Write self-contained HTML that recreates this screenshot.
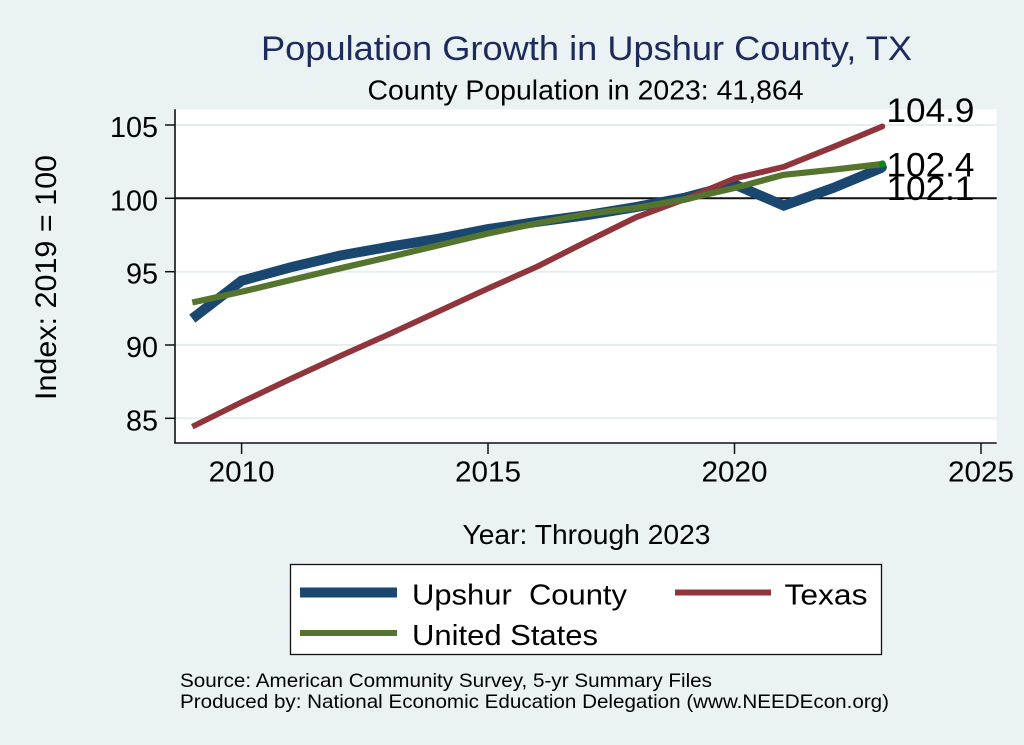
<!DOCTYPE html>
<html>
<head>
<meta charset="utf-8">
<style>
  html, body { margin:0; padding:0; background:#EAF2F3; }
  svg { display:block; }
  text { font-family: "Liberation Sans", Arial, Helvetica, sans-serif; }
</style>
</head>
<body>
<svg width="1024" height="745" viewBox="0 0 1024 745" xmlns="http://www.w3.org/2000/svg">
  <rect x="0" y="0" width="1024" height="745" fill="#EAF2F3"/>

  <!-- title -->
  <text x="261" y="60" font-size="34.5" fill="#1C2B5A" textLength="651" lengthAdjust="spacingAndGlyphs">Population Growth in Upshur County, TX</text>
  <text x="367.5" y="99.5" font-size="27.5" fill="#000" textLength="436" lengthAdjust="spacingAndGlyphs">County Population in 2023: 41,864</text>

  <!-- plot region -->
  <rect x="175" y="109.3" width="821.7" height="333.7" fill="#FFFFFF"/>

  <g stroke="#E6EEF0" stroke-width="2">
    <line x1="175" y1="125" x2="996.7" y2="125"/>
    <line x1="175" y1="271.7" x2="996.7" y2="271.7"/>
    <line x1="175" y1="345" x2="996.7" y2="345"/>
    <line x1="175" y1="418.3" x2="996.7" y2="418.3"/>
  </g>

  <line x1="175" y1="198.3" x2="996.7" y2="198.3" stroke="#111" stroke-width="2"/>

  <line x1="175" y1="109.3" x2="175" y2="443.5" stroke="#111" stroke-width="1.6"/>
  <line x1="174.2" y1="443" x2="996.7" y2="443" stroke="#111" stroke-width="1.6"/>

  <g stroke="#111" stroke-width="1.5">
    <line x1="165" y1="125" x2="175" y2="125"/>
    <line x1="165" y1="198.3" x2="175" y2="198.3"/>
    <line x1="165" y1="271.7" x2="175" y2="271.7"/>
    <line x1="165" y1="345" x2="175" y2="345"/>
    <line x1="165" y1="418.3" x2="175" y2="418.3"/>
  </g>
  <g stroke="#111" stroke-width="1.5">
    <line x1="241.6" y1="443" x2="241.6" y2="454"/>
    <line x1="488" y1="443" x2="488" y2="454"/>
    <line x1="734.5" y1="443" x2="734.5" y2="454"/>
    <line x1="981" y1="443" x2="981" y2="454"/>
  </g>

  <!-- y tick labels -->
  <g font-size="28.5" fill="#000" text-anchor="end">
    <text x="158" y="137" textLength="48" lengthAdjust="spacingAndGlyphs">105</text>
    <text x="158" y="210.3" textLength="48" lengthAdjust="spacingAndGlyphs">100</text>
    <text x="158" y="283.7" textLength="32" lengthAdjust="spacingAndGlyphs">95</text>
    <text x="158" y="357" textLength="32" lengthAdjust="spacingAndGlyphs">90</text>
    <text x="158" y="430.3" textLength="32" lengthAdjust="spacingAndGlyphs">85</text>
  </g>

  <!-- x tick labels -->
  <g font-size="28.5" fill="#000" text-anchor="middle">
    <text x="241.6" y="481.5" textLength="66" lengthAdjust="spacingAndGlyphs">2010</text>
    <text x="488" y="481.5" textLength="66" lengthAdjust="spacingAndGlyphs">2015</text>
    <text x="734.5" y="481.5" textLength="66" lengthAdjust="spacingAndGlyphs">2020</text>
    <text x="981" y="481.5" textLength="66" lengthAdjust="spacingAndGlyphs">2025</text>
  </g>

  <!-- axis titles -->
  <text transform="translate(56,277.5) rotate(-90)" x="0" y="0" font-size="30" fill="#000" text-anchor="middle" textLength="245" lengthAdjust="spacingAndGlyphs">Index: 2019 = 100</text>
  <text x="586.5" y="544" font-size="27.5" fill="#000" text-anchor="middle" textLength="248" lengthAdjust="spacingAndGlyphs">Year: Through 2023</text>

  <!-- Upshur County -->
  <polyline fill="none" stroke="#1A476F" stroke-width="10" stroke-linejoin="miter" stroke-linecap="butt"
    points="192.3,318.6 241.59,280.75 290.88,267.25 340.17,255.5 389.46,246.7 438.75,238.65 488.04,229.1 537.33,221.8 586.62,215.2 635.91,207.1 685.2,197.6 734.49,184.4 783.78,205.6 833.07,188.0 882.36,167.5"/>
  <circle cx="882.36" cy="167.5" r="4.5" fill="#1A476F"/>

  <!-- Texas -->
  <polyline fill="none" stroke="#90353B" stroke-width="5.8" stroke-linejoin="round" stroke-linecap="butt"
    points="192.3,426.7 241.59,402.2 290.88,378.7 340.17,356.0 389.46,334.0 438.75,311.3 488.04,288.5 537.33,266.5 586.62,241.6 635.91,217.4 685.2,199.0 734.49,178.5 783.78,166.8 833.07,147.0 882.36,126.4"/>
  <circle cx="882.36" cy="126.4" r="2.9" fill="#90353B"/>

  <!-- United States -->
  <polyline fill="none" stroke="#55752F" stroke-width="6.2" stroke-linejoin="round" stroke-linecap="butt"
    points="192.3,302.5 241.59,291.75 290.88,280.0 340.17,268.3 389.46,257.0 438.75,245.25 488.04,233.5 537.33,223.25 586.62,214.0 635.91,207.85 685.2,199.35 734.49,188.0 783.78,174.8 833.07,169.7 882.36,164.0"/>
  <circle cx="882.36" cy="164.0" r="3.6" fill="#0B8A0B"/>

  <!-- end labels -->
  <g font-size="34" fill="#000">
    <text x="886.5" y="122" textLength="88" lengthAdjust="spacingAndGlyphs">104.9</text>
    <text x="886.5" y="200" textLength="88" lengthAdjust="spacingAndGlyphs">102.1</text>
    <text x="886.5" y="176.5" textLength="88" lengthAdjust="spacingAndGlyphs">102.4</text>
  </g>

  <!-- legend -->
  <rect x="290.5" y="564.5" width="591" height="90" fill="#FFFFFF" stroke="#111" stroke-width="1.3"/>
  <line x1="300" y1="592.5" x2="397" y2="592.5" stroke="#1A476F" stroke-width="10"/>
  <line x1="675" y1="592.5" x2="771" y2="592.5" stroke="#90353B" stroke-width="6"/>
  <line x1="300" y1="633" x2="397" y2="633" stroke="#55752F" stroke-width="6"/>
  <g font-size="29" fill="#000">
    <text x="412" y="604.5" textLength="215" lengthAdjust="spacingAndGlyphs" style="white-space:pre">Upshur  County</text>
    <text x="784.5" y="604.5" textLength="83" lengthAdjust="spacingAndGlyphs">Texas</text>
    <text x="412" y="645" textLength="186" lengthAdjust="spacingAndGlyphs">United States</text>
  </g>

  <!-- source notes -->
  <g font-size="19.5" fill="#000">
    <text x="180" y="687" textLength="532" lengthAdjust="spacingAndGlyphs">Source: American Community Survey, 5-yr Summary Files</text>
    <text x="180" y="708" textLength="709" lengthAdjust="spacingAndGlyphs">Produced by: National Economic Education Delegation (www.NEEDEcon.org)</text>
  </g>
</svg>
</body>
</html>
